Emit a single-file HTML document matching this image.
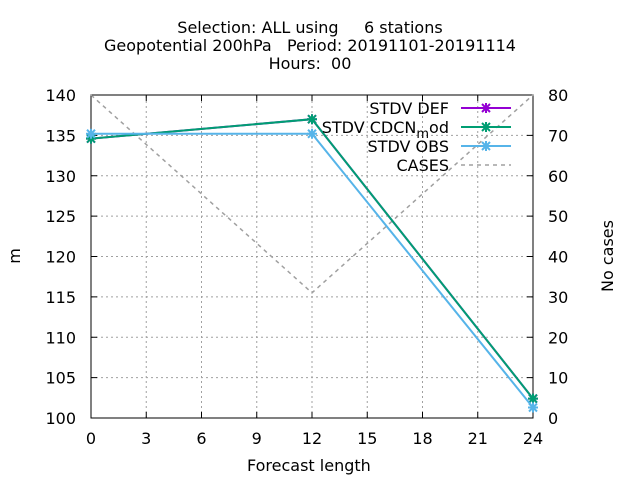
<!DOCTYPE html>
<html><head><meta charset="utf-8"><style>
body{margin:0;background:#fff}
svg{display:block;font-family:"DejaVu Sans","Liberation Sans",sans-serif;font-size:16px}
</style></head><body>
<svg id="c" width="640" height="480">
<g text-anchor="middle" fill="#000">
<text x="310" y="33" xml:space="preserve">Selection: ALL using     6 stations</text>
<text x="310" y="51" xml:space="preserve">Geopotential 200hPa   Period: 20191101-20191114</text>
<text x="310" y="69" xml:space="preserve">Hours:  00</text>
</g>
<g id="grid"></g>
<g id="axes"></g>
<g id="series"></g>
<g id="legend"></g>
<text x="247" y="471">Forecast length</text>
<text transform="translate(20,256) rotate(-90)" text-anchor="middle">m</text>
<text transform="translate(613,256) rotate(-90)" text-anchor="middle">No cases</text>
</svg>
<script>
const xVals=[0,12,24];
const xTicks=[0,3,6,9,12,15,18,21,24];
const yTicks=[100,105,110,115,120,125,130,135,140];
const y2Ticks=[0,10,20,30,40,50,60,70,80];
const stdvDef=[134.6,137.0,102.4];
const stdvCdcn=[134.6,137.0,102.4];
const stdvObs=[135.2,135.2,101.3];
const cases=[80,31,80];
const X0=91,X1=533,Y0=418,Y1=95;
const NS="http://www.w3.org/2000/svg";
const xs=v=>X0+(v-0)/(24)*(X1-X0);
const ys=v=>Y0-(v-100)/40*(Y0-Y1);
const y2s=v=>Y0-v/80*(Y0-Y1);
function mk(t,a,p){const e=document.createElementNS(NS,t);for(const k in a)e.setAttribute(k,a[k]);p.appendChild(e);return e;}
const G=document.getElementById('grid'),A=document.getElementById('axes'),S=document.getElementById('series'),L=document.getElementById('legend');
xTicks.forEach(t=>{const x=xs(t);
 if(t>0&&t<24){const l=mk('line',{x1:x,x2:x,y1:Y0,y2:Y1,stroke:'#a0a0a0','stroke-dasharray':'2,3'},G);}
 mk('line',{x1:x,x2:x,y1:Y0,y2:Y0-6,stroke:'#000'},A);mk('line',{x1:x,x2:x,y1:Y1,y2:Y1+6,stroke:'#000'},A);
 const tx=mk('text',{x:x,y:Y0+26,'text-anchor':'middle'},A);tx.textContent=t;
 });
yTicks.forEach(t=>{const y=ys(t);
 if(t>100&&t<140){const l=mk('line',{x1:X0,x2:X1,y1:y,y2:y,stroke:'#a0a0a0','stroke-dasharray':'2,3'},G);}
 mk('line',{x1:X0,x2:X0+6,y1:y,y2:y,stroke:'#000'},A);
 const tx=mk('text',{x:X0-15,y:y+6,'text-anchor':'end'},A);tx.textContent=t;
 });
y2Ticks.forEach(t=>{const y=y2s(t);
 mk('line',{x1:X1,x2:X1-6,y1:y,y2:y,stroke:'#000'},A);
 const tx=mk('text',{x:X1+15,y:y+6,'text-anchor':'start'},A);tx.textContent=t;
 });
mk('rect',{x:X0,y:Y1,width:X1-X0,height:Y0-Y1,fill:'none',stroke:'#000'},A);
function star(x,y,c,p){mk('path',{d:`M${x-4},${y-4}L${x+4},${y+4}M${x-4},${y+4}L${x+4},${y-4}M${x-5},${y}L${x+5},${y}M${x},${y-5}L${x},${y+5}`,stroke:c,'stroke-width':2},p);}
function series(vals,c,name,sc,dash){
 const g=mk('g',{},S);
 const pts=vals.map((v,i)=>xs(xVals[i])+','+sc(v)).join(' ');
 mk('polyline',{points:pts,fill:'none',stroke:c,'stroke-width':dash?1.5:2,'stroke-dasharray':dash||'none'},g);
 if(!dash)vals.forEach((v,i)=>star(xs(xVals[i]),sc(v),c,g));}
series(cases,'#a0a0a0','cases-line',y2s,'4,4');
series(stdvDef,'#9400d3','stdv-def-line',ys);
series(stdvCdcn,'#009e73','stdv-cdcn-line',ys);
series(stdvObs,'#56b4e9','stdv-obs-line',ys);
const leg=[['STDV DEF','#9400d3',0],['STDV CDCN','#009e73',0],['STDV OBS','#56b4e9',0],['CASES','#a0a0a0',1]];
leg.forEach((e,i)=>{const y=108+i*19;const g=mk('g',{},L);
 
 const t=mk('text',{x:449,y:y+6,'text-anchor':'end'},g);
 if(e[0]==='STDV CDCN'){
  const a=mk('tspan',{},t);a.textContent='STDV CDCN';
  const b=mk('tspan',{dy:5,'font-size':13},t);b.textContent='m';
  const d=mk('tspan',{dy:-5},t);d.textContent='od';
 }else t.textContent=e[0];
 mk('line',{x1:461,x2:511,y1:y,y2:y,stroke:e[1],'stroke-width':e[2]?1.5:2,'stroke-dasharray':e[2]?'4,4':'none'},g);
 if(!e[2])star(486,y,e[1],g);});
</script>
</body></html>
